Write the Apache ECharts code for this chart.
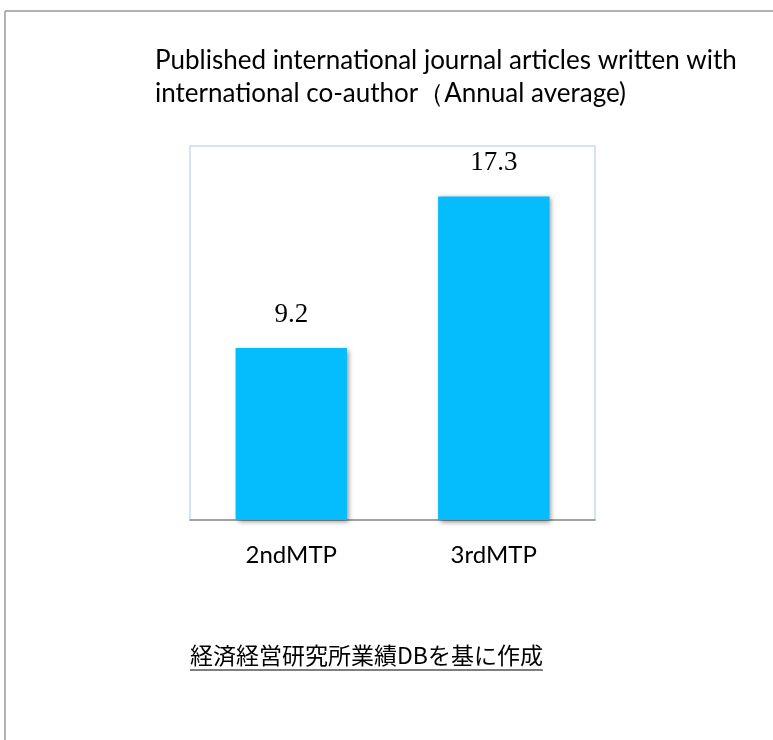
<!DOCTYPE html>
<html>
<head>
<meta charset="utf-8">
<script src="https://cdn.jsdelivr.net/npm/echarts@6/dist/echarts.min.js"></script>
<style>
  html, body { margin: 0; padding: 0; background: #ffffff; }
  #chart { width: 773px; height: 740px; }
</style>
</head>
<body>
<div id="chart"></div>
<script>
// Chart data
const categories = ['2ndMTP', '3rdMTP'];
const values = [9.2, 17.3];
const titleLines = [
  'Published international journal articles written with',
  'international co-author（Annual average)'
];
const sourceNote = '経済経営研究所業績DBを基に作成';

const chart = echarts.init(document.getElementById('chart'), null, { renderer: 'canvas' });

const sansFont = 'Lato, "Noto Sans", sans-serif';
const noteFont = '"Noto Sans CJK JP", sans-serif';
const noteSize = 23;

// Measure the source note so its underline spans the text
const ctx = document.createElement('canvas').getContext('2d');
ctx.font = noteSize + 'px ' + noteFont;
const noteWidth = ctx.measureText(sourceNote).width;
const noteX = 190, noteY = 644;

chart.setOption({
  backgroundColor: '#ffffff',
  animation: false,
  title: {
    text: titleLines.join('\n'),
    left: 150,
    top: 39,
    textStyle: {
      fontFamily: sansFont,
      fontSize: 26,
      fontWeight: 'normal',
      color: '#000000',
      lineHeight: 33
    }
  },
  grid: {
    left: 190,
    right: 178,
    top: 146,
    bottom: 220,
    show: true,
    borderColor: '#c9daf2',
    borderWidth: 1.5,
    backgroundColor: '#ffffff'
  },
  xAxis: {
    type: 'category',
    data: categories,
    axisLine: { show: true, lineStyle: { color: '#8c8c8c', width: 1.5 } },
    axisTick: { show: false },
    axisLabel: {
      margin: 23,
      fontFamily: sansFont,
      fontSize: 24,
      color: '#000000'
    }
  },
  yAxis: {
    type: 'value',
    min: 0,
    max: 20,
    show: false,
    splitLine: { show: false }
  },
  series: [{
    type: 'bar',
    data: values,
    barWidth: '55%',
    itemStyle: {
      color: '#05bdfd',
      shadowColor: 'rgba(0,0,0,0.45)',
      shadowBlur: 5,
      shadowOffsetX: 2,
      shadowOffsetY: 2
    },
    label: {
      show: true,
      position: 'top',
      distance: 20,
      fontFamily: '"Liberation Serif", "DejaVu Serif", serif',
      fontSize: 27,
      color: '#000000'
    }
  }],
  graphic: [
    // frame lines along the top and left edges
    { type: 'line', shape: { x1: 5, y1: 11, x2: 773, y2: 11 }, style: { stroke: '#9a9a9a', lineWidth: 1.5 } },
    { type: 'line', shape: { x1: 5, y1: 11, x2: 5, y2: 740 }, style: { stroke: '#9a9a9a', lineWidth: 1.5 } },
    // underlined source note
    {
      type: 'text', left: noteX, top: noteY,
      style: { text: sourceNote, font: noteSize + 'px ' + noteFont, fill: '#000000' }
    },
    {
      type: 'line',
      shape: { x1: noteX, y1: 670, x2: noteX + noteWidth, y2: 670 },
      style: { stroke: '#000000', lineWidth: 1.2 }
    }
  ]
});
</script>
</body>
</html>
